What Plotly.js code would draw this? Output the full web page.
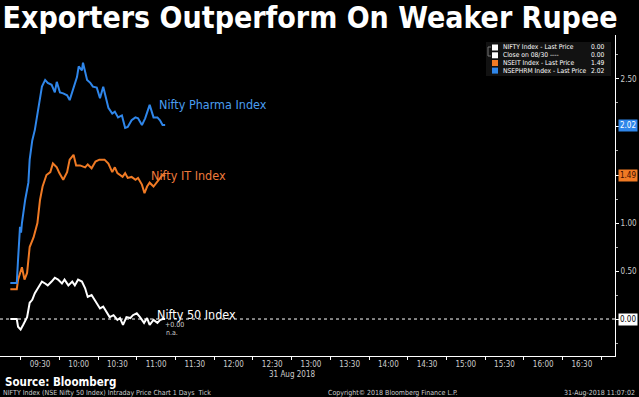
<!DOCTYPE html>
<html><head><meta charset="utf-8">
<script src="https://cdn.plot.ly/plotly-3.0.1.min.js"></script>
<style>html,body{margin:0;padding:0;background:#000;}#chart{width:639px;height:397px;}</style>
</head><body><div id="chart"></div>
<script>
const DAY = '2018-08-31 ';
// Nifty Pharma Index (% change vs previous close)
const pharmaTime = ['09:07','09:12','09:13','09:14:30','09:15:20','09:16','09:18:30','09:20','09:21','09:22','09:24','09:26','09:28:30','09:31:30','09:34','09:36','09:39','09:41:30','09:43','09:45:30','09:48','09:51','09:53','09:55:30','09:58:40','10:00','10:02:30','10:03:20','10:06:30','10:09','10:11','10:14','10:16:30','10:19','10:20:30','10:23','10:26','10:28','10:30:30','10:33:30','10:36','10:38','10:41','10:44','10:46','10:49','10:51:30','10:55','10:58','11:01','11:03','11:05','11:07'];
const pharmaVal = [0.375,0.375,0.62,0.96,0.90,1.00,1.24,1.38,1.42,1.66,1.86,1.97,2.18,2.42,2.49,2.46,2.44,2.36,2.47,2.36,2.35,2.33,2.28,2.39,2.52,2.63,2.59,2.67,2.49,2.46,2.42,2.41,2.30,2.42,2.33,2.20,2.14,2.16,2.10,2.12,1.99,2.00,2.07,2.10,2.09,2.02,2.09,2.23,2.10,2.10,2.07,2.02,2.02];
// Nifty IT Index
const itTime = ['09:07','09:12','09:13','09:14:30','09:16','09:18','09:20','09:22','09:25','09:28','09:30','09:32','09:35','09:38','09:40','09:43','09:45','09:48','09:51','09:53','09:56','09:58','10:01','10:05','10:07','10:10','10:13','10:16','10:20','10:23','10:26','10:28','10:30','10:34','10:36','10:38','10:41','10:44','10:46','10:49','10:51','10:53','10:55','10:58','11:01','11:03','11:05','11:07'];
const itVal = [0.31,0.31,0.41,0.48,0.54,0.41,0.48,0.75,0.85,1.00,1.24,1.38,1.50,1.53,1.62,1.58,1.52,1.45,1.53,1.66,1.71,1.60,1.60,1.58,1.61,1.57,1.64,1.66,1.66,1.62,1.53,1.58,1.52,1.48,1.52,1.47,1.48,1.45,1.47,1.40,1.31,1.38,1.42,1.38,1.43,1.47,1.50,1.49];
// Nifty 50 Index
const niftyTime = ['09:07','09:12','09:13','09:15','09:17','09:20','09:22','09:24','09:26','09:28:30','09:31:30','09:34','09:36','09:39','09:41:30','09:44','09:47','09:49','09:52','09:55','09:57','09:59:30','10:02:30','10:05','10:07','10:10','10:13','10:16:30','10:19','10:22','10:24','10:27','10:30','10:32','10:34:20','10:37','10:40','10:42','10:45','10:47:30','10:50:40','10:53','10:55','10:58','11:01','11:03','11:05','11:07'];
const niftyVal = [0.00,0.00,-0.08,-0.11,-0.06,0.02,0.17,0.20,0.27,0.33,0.39,0.37,0.35,0.39,0.43,0.41,0.37,0.41,0.35,0.39,0.35,0.41,0.39,0.32,0.23,0.25,0.18,0.11,0.13,0.06,0.02,0.04,-0.01,0.01,-0.06,0.02,0.01,0.04,0.06,0.02,-0.04,0.01,-0.06,-0.01,-0.04,-0.01,0.00,0.00];
const prevClose = 0.00;
const xStart = '08:59', xEnd = '16:55:40';
const tickTimes = ['09:30','10:00','10:30','11:00','11:30','12:00','12:30','13:00','13:30','14:00','14:30','15:00','15:30','16:00','16:30'];
const legendRows = [
  {name:'NIFTY Index - Last Price', value:'0.00', color:'#ffffff'},
  {name:'Close on 08/30 ----', value:'0.00', color:'#ffffff'},
  {name:'NSEIT Index - Last Price', value:'1.49', color:'#f07a24'},
  {name:'NSEPHRM Index - Last Price', value:'2.02', color:'#2f86ea'}
];

const BLUE = '#2f86ea', ORANGE = '#f07a24';
const d = a => a.map(t => DAY + t);
const FONT = 'DejaVu Sans Condensed, DejaVu Sans, sans-serif';

const traces = [
  {x: d([xStart, xEnd]), y: [prevClose, prevClose], mode:'lines', line:{color:'#ffffff', width:1, dash:'dot'}, hoverinfo:'skip'},
  {x: d(niftyTime), y: niftyVal, mode:'lines', line:{color:'#ffffff', width:2}},
  {x: d(itTime), y: itVal, mode:'lines', line:{color:ORANGE, width:2}},
  {x: d(pharmaTime), y: pharmaVal, mode:'lines', line:{color:BLUE, width:2}}
];

const px = v => v/615, py = v => (356 - v)/321;
const ann = [];
const shapes = [];
// series labels
ann.push({xref:'paper', yref:'paper', x:px(157), y:py(104), xanchor:'left', yanchor:'middle', text:'Nifty Pharma Index', showarrow:false, font:{family:FONT, size:12.5, color:'#4a9ef0'}});
ann.push({xref:'paper', yref:'paper', x:px(149), y:py(175), xanchor:'left', yanchor:'middle', text:'Nifty IT Index', showarrow:false, font:{family:FONT, size:12.5, color:'#ee7a3c'}});
ann.push({xref:'paper', yref:'paper', x:px(155), y:py(314), xanchor:'left', yanchor:'middle', text:'Nifty 50 Index', showarrow:false, font:{family:FONT, size:12.5, color:'#ffffff'}});
ann.push({xref:'paper', yref:'paper', x:px(163), y:py(325), xanchor:'left', yanchor:'middle', text:'+0.00', showarrow:false, font:{family:FONT, size:7, color:'#cccccc'}});
ann.push({xref:'paper', yref:'paper', x:px(164), y:py(333), xanchor:'left', yanchor:'middle', text:'n.a.', showarrow:false, font:{family:FONT, size:7, color:'#cccccc'}});
// legend box
shapes.push({type:'rect', xref:'paper', yref:'paper', x0:px(486), x1:px(611), y0:py(42), y1:py(76), fillcolor:'#121212', line:{width:0}, layer:'above'});
shapes.push({type:'path', xref:'paper', yref:'paper', path:`M ${px(491)} ${py(47)} L ${px(488)} ${py(47)} L ${px(488)} ${py(56)} L ${px(491)} ${py(56)}`, line:{color:'#777', width:1}, layer:'above'});
const rowY = [47.5, 55.3, 63, 70.6];
legendRows.forEach((r, i) => {
  shapes.push({type:'rect', xref:'paper', yref:'paper', x0:px(492), x1:px(498), y0:py(rowY[i]-3), y1:py(rowY[i]+3), fillcolor:r.color, line:{width:0}, layer:'above'});
  ann.push({xref:'paper', yref:'paper', x:px(501), y:py(rowY[i]), xanchor:'left', yanchor:'middle', text:r.name, showarrow:false, font:{family:FONT, size:6.7, color:'#ffffff'}});
  ann.push({xref:'paper', yref:'paper', x:px(607), y:py(rowY[i]), xanchor:'right', yanchor:'middle', text:r.value, showarrow:false, font:{family:FONT, size:6.7, color:'#ffffff'}});
});
// last value tags on right axis
const tag = (v, bg, fg) => ann.push({xref:'paper', yref:'y', x:px(618), y:v, xanchor:'left', yanchor:'middle', text:v.toFixed(2), showarrow:false, bgcolor:bg, borderpad:1, font:{family:FONT, size:8, color:fg}});
tag(pharmaVal[pharmaVal.length-1], BLUE, '#ffffff');
tag(itVal[itVal.length-1], ORANGE, '#3a0c00');
tag(prevClose, '#ffffff', '#000000');
// footer
ann.push({xref:'paper', yref:'paper', x:px(3), y:py(382), xanchor:'left', yanchor:'middle', text:'<b>Source: Bloomberg</b>', showarrow:false, font:{family:FONT, size:11.5, color:'#ffffff'}});
ann.push({xref:'paper', yref:'paper', x:px(1), y:py(393), xanchor:'left', yanchor:'middle', text:'NIFTY Index (NSE Nifty 50 Index) Intraday Price Chart 1 Days  Tick', showarrow:false, font:{family:FONT, size:7, color:'#cccccc'}});
ann.push({xref:'paper', yref:'paper', x:px(326), y:py(393), xanchor:'left', yanchor:'middle', text:'Copyright\u00a9 2018 Bloomberg Finance L.P.', showarrow:false, font:{family:FONT, size:7, color:'#cccccc'}});
ann.push({xref:'paper', yref:'paper', x:px(637), y:py(393), xanchor:'right', yanchor:'middle', text:'31-Aug-2018 11:07:02', showarrow:false, font:{family:FONT, size:7, color:'#cccccc'}});
ann.push({xref:'paper', yref:'paper', x:px(318), y:py(374), xanchor:'right', yanchor:'middle', text:'31 Aug 2018', showarrow:false, font:{family:FONT, size:8, color:'#cccccc'}});

const layout = {
  width:639, height:397,
  paper_bgcolor:'#000', plot_bgcolor:'#000',
  margin:{l:0, r:24, t:35, b:41},
  showlegend:false,
  title:{text:'<b>Exporters Outperform On Weaker Rupee</b>', x:0.004, xanchor:'left', xref:'container', y:1-17/397, yanchor:'middle', yref:'container', font:{family:FONT, size:30, color:'#ffffff'}},
  xaxis:{type:'date', range:d([xStart, xEnd]), tickvals:d(tickTimes), ticktext:tickTimes, ticks:'', showgrid:false, zeroline:false,
    showline:true, linecolor:'#ffffff', linewidth:1, tickfont:{family:FONT, size:8, color:'#cccccc'}, ticklabelstandoff:0,
    minor:{tick0:DAY+'09:15', dtick:30*60*1000, ticks:'outside', ticklen:3, tickcolor:'#ffffff', showgrid:false}},
  yaxis:{side:'right', range:[-0.385, 2.958], tickvals:[0,0.5,1,1.5,2,2.5], ticktext:['','0.50','1.00','','','2.50'], ticks:'outside', ticklen:3, tickcolor:'#ffffff',
    showline:true, linecolor:'#ffffff', linewidth:1, showgrid:false, zeroline:false, tickfont:{family:FONT, size:8, color:'#cccccc'},
    minor:{dtick:0.25, ticks:'outside', ticklen:2, tickcolor:'#aaaaaa', showgrid:false}},
  annotations:ann, shapes:shapes
};
Plotly.newPlot('chart', traces, layout, {staticPlot:true, displayModeBar:false});
</script></body></html>
